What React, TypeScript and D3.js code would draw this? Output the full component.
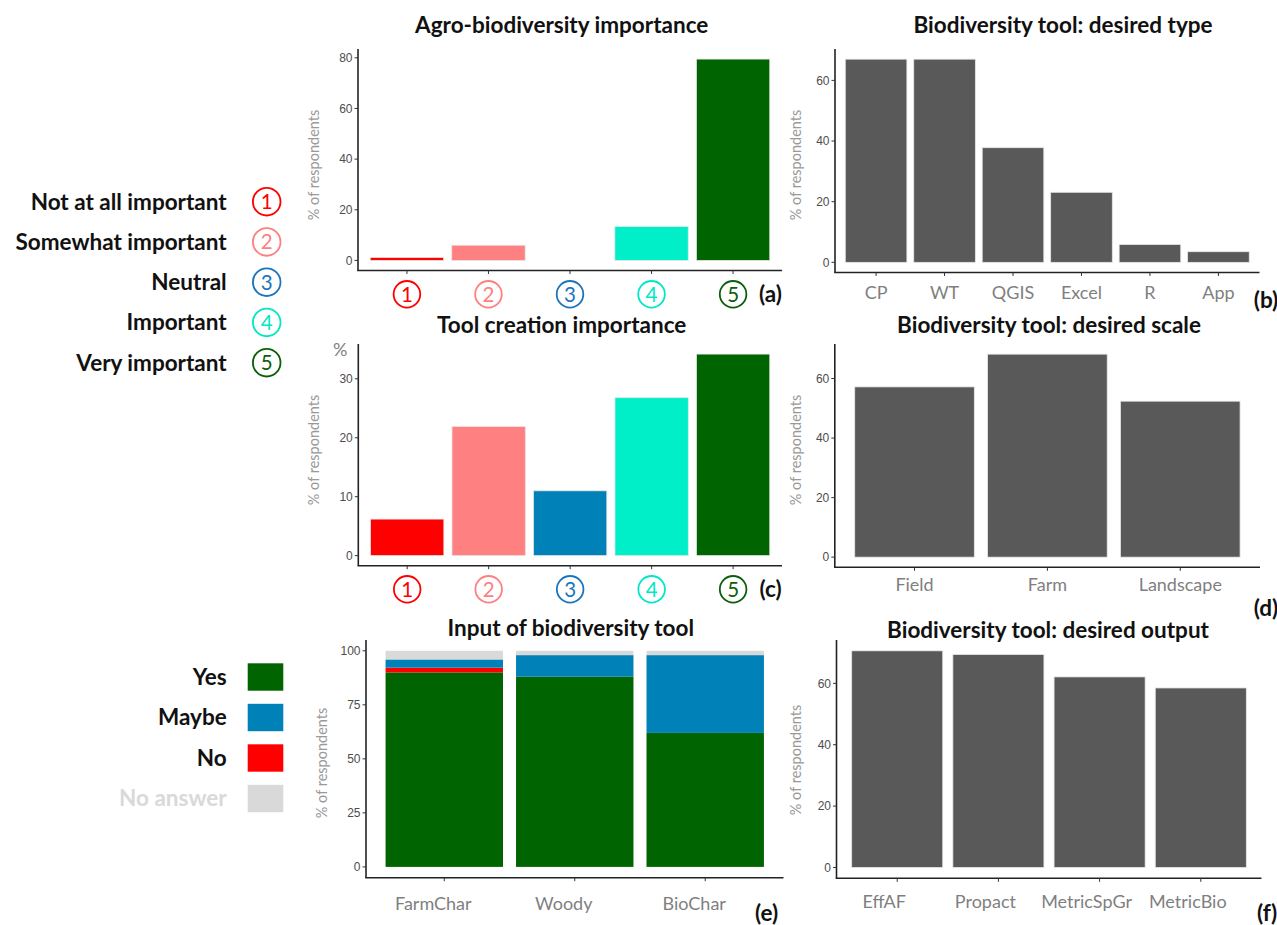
import React from 'react';
import * as d3 from 'd3';

// ---------- data ----------
const likertLevels = ['1', '2', '3', '4', '5'];
const likertLabels = ['Not at all important', 'Somewhat important', 'Neutral', 'Important', 'Very important'];
const likertBarColors = ['#FF0000', '#FF8080', '#0082B8', '#00EEC8', '#006400'];
const likertCircleColors = ['#FF0000', '#FF7F7F', '#1B75BC', '#00E8C6', '#0B5E0B'];

const agroImportance = [1.2, 6.0, 0, 13.4, 79.5];
const toolCreationImportance = [6.2, 21.9, 11.0, 26.8, 34.2];

const typeCategories = ['CP', 'WT', 'QGIS', 'Excel', 'R', 'App'];
const typeValues = [67.0, 67.0, 37.8, 23.1, 5.9, 3.5];

const scaleCategories = ['Field', 'Farm', 'Landscape'];
const scaleValues = [57.2, 68.2, 52.4];

const outputCategories = ['EffAF', 'Propact', 'MetricSpGr', 'MetricBio'];
const outputValues = [70.6, 69.4, 62.1, 58.5];

const inputCategories = ['FarmChar', 'Woody', 'BioChar'];
const inputStackOrder = ['Yes', 'No', 'Maybe', 'No answer'];
const inputYes = [90.0, 88.0, 62.0];
const inputNo = [2.2, 0, 0];
const inputMaybe = [3.8, 10.0, 36.0];
const inputNoAnswer = [4.0, 2.0, 2.0];
const responseColors: Record<string, string> = { Yes: '#006400', No: '#FF0000', Maybe: '#0082B8', 'No answer': '#D9D9D9' };
const legendResponses = ['Yes', 'Maybe', 'No', 'No answer'];

const ticksA = [0, 20, 40, 60, 80];
const ticksB = [0, 20, 40, 60];
const ticksC = [0, 10, 20, 30];
const ticksD = [0, 20, 40, 60];
const ticksE = [0, 25, 50, 75, 100];
const ticksF = [0, 20, 40, 60];

// ---------- styles ----------
const FONT = "Lato, 'Open Sans', sans-serif";
const TICKFONT = "'Liberation Sans', Arial, sans-serif";
const BAR_GRAY = '#595959';
const TITLE_SIZE = 22.5;
const LEGEND_SIZE = 22.5;
const TAG_SIZE = 22.5;

type PanelProps = {
  left: number; right: number; top: number; bottom: number;
  categories: string[];
  values?: number[];
  stacked?: { key: string; values: number[] }[];
  colors?: string[];
  ticks: number[];
  title: string; titleX: number; titleY: number;
  yLabelX: number; yLabelY: number;
  circleLabels?: boolean; labelY: number; labelShift?: number;
  tag: string; tagX: number; tagY: number;
  percentMark?: boolean;
};

function Panel(p: PanelProps) {
  const max = p.stacked
    ? d3.max(p.categories.map((_, i) => d3.sum(p.stacked!.map(s => s.values[i])))) as number
    : (d3.max(p.values!) as number);
  const x = d3.scaleBand<string>().domain(p.categories).range([p.left, p.right]).paddingInner(0.1).paddingOuter(0.15);
  const y = d3.scaleLinear().domain([-0.05 * max, 1.05 * max]).range([p.bottom, p.top]);
  const bw = x.bandwidth();

  let bars: React.ReactNode[] = [];
  if (p.stacked) {
    const rows = p.categories.map((c, i) => {
      const o: any = { cat: c };
      p.stacked!.forEach(s => { o[s.key] = s.values[i]; });
      return o;
    });
    const series = d3.stack().keys(p.stacked.map(s => s.key))(rows);
    series.forEach(s => {
      s.forEach((d, i) => {
        const h = y(d[0]) - y(d[1]);
        if (h <= 0) return;
        bars.push(
          <rect key={s.key + i} x={x(p.categories[i])} y={y(d[1])} width={bw} height={h}
            fill={responseColors[s.key]} />
        );
      });
    });
  } else {
    bars = p.values!.map((v, i) => {
      const h = y(0) - y(v);
      if (h <= 0) return null;
      return (
        <rect key={i} x={x(p.categories[i])} y={y(v)} width={bw} height={h}
          fill={p.colors ? p.colors[i] : BAR_GRAY} stroke="#e6e6e6" strokeWidth={0.8} />
      );
    });
  }

  return (
    <g>
      <text x={p.titleX} y={p.titleY} textAnchor="middle" fontFamily={FONT} fontWeight={700} fontSize={TITLE_SIZE} fill="#111">{p.title}</text>
      {bars}
      <line x1={p.left} x2={p.left} y1={p.top} y2={p.bottom} stroke="#222" strokeWidth={1.6} />
      <line x1={p.left - 0.8} x2={p.right} y1={p.bottom} y2={p.bottom} stroke="#222" strokeWidth={1.6} />
      {p.ticks.map(t => (
        <g key={t}>
          <line x1={p.left - 3.5} x2={p.left} y1={y(t)} y2={y(t)} stroke="#333" strokeWidth={1} />
          <text x={p.left - 5.5} y={y(t)} dy="0.35em" textAnchor="end" fontFamily={TICKFONT} fontSize={12} fill="#4D4D4D">{t}</text>
        </g>
      ))}
      {p.categories.map(c => {
        const cx = (x(c) as number) + bw / 2;
        return <line key={c} x1={cx} x2={cx} y1={p.bottom} y2={p.bottom + 3.5} stroke="#333" strokeWidth={1} />;
      })}
      <text transform={`translate(${p.yLabelX},${p.yLabelY}) rotate(-90)`} textAnchor="middle" dy="0.35em"
        fontFamily={FONT} fontSize={14.5} fill="#999">% of respondents</text>
      {p.percentMark && (
        <text x={p.left - 18} y={p.top + 6} textAnchor="middle" dy="0.35em" fontFamily={FONT} fontSize={18} fill="#808080">%</text>
      )}
      {p.categories.map((c, i) => {
        const cx = (x(c) as number) + bw / 2 + (p.labelShift || 0);
        if (p.circleLabels) {
          return (
            <g key={c}>
              <circle cx={cx} cy={p.labelY} r={13.3} fill="none" stroke={likertCircleColors[i]} strokeWidth={1.8} />
              <text x={cx} y={p.labelY} dy="0.36em" textAnchor="middle" fontFamily={FONT} fontSize={20.5} fill={likertCircleColors[i]}>{c}</text>
            </g>
          );
        }
        return (
          <text key={c} x={cx} y={p.labelY} textAnchor="middle" fontFamily={FONT} fontSize={18} fill="#7F7F7F">{c}</text>
        );
      })}
      <text x={p.tagX} y={p.tagY} dy="0.35em" textAnchor="middle" fontFamily={FONT} fontWeight={700} fontSize={TAG_SIZE} fill="#111">{p.tag}</text>
    </g>
  );
}

export default function App() {
  const likertY = d3.scalePoint<string>().domain(likertLabels).range([201.7, 362.7]);
  const respY = d3.scalePoint<string>().domain(legendResponses).range([677, 798.5]);
  const stacked = [
    { key: 'Yes', values: inputYes },
    { key: 'No', values: inputNo },
    { key: 'Maybe', values: inputMaybe },
    { key: 'No answer', values: inputNoAnswer },
  ].filter(s => inputStackOrder.includes(s.key));

  return (
    <svg width={1277} height={925} style={{ position: 'absolute', left: 0, top: 0, background: '#fff' }}>
      <rect width={1277} height={925} fill="#fff" />
      {likertLabels.map((l, i) => (
        <g key={l}>
          <text x={226.7} y={likertY(l)} dy="0.35em" textAnchor="end" fontFamily={FONT} fontWeight={700} fontSize={LEGEND_SIZE} fill="#111">{l}</text>
          <circle cx={266.7} cy={likertY(l)} r={13.8} fill="none" stroke={likertCircleColors[i]} strokeWidth={1.8} />
          <text x={266.7} y={likertY(l)} dy="0.36em" textAnchor="middle" fontFamily={FONT} fontSize={20.5} fill={likertCircleColors[i]}>{likertLevels[i]}</text>
        </g>
      ))}
      {legendResponses.map(r => (
        <g key={r}>
          <text x={226.7} y={respY(r)} dy="0.35em" textAnchor="end" fontFamily={FONT} fontWeight={700} fontSize={LEGEND_SIZE}
            fill={r === 'No answer' ? '#D9D9D9' : '#111'}>{r}</text>
          <rect x={247.7} y={(respY(r) as number) - 13.7} width={35.6} height={27.4} fill={responseColors[r]} />
        </g>
      ))}

      <Panel left={358} right={782} top={49} bottom={270.5} categories={likertLevels} values={agroImportance}
        colors={likertBarColors} ticks={ticksA} title="Agro-biodiversity importance" titleX={561.7} titleY={33}
        yLabelX={314} yLabelY={165} circleLabels labelY={294.3} tag="(a)" tagX={770.5} tagY={294.3} />
      <Panel left={835} right={1259.5} top={49} bottom={272.5} categories={typeCategories} values={typeValues}
        ticks={ticksB} title="Biodiversity tool: desired type" titleX={1063} titleY={33}
        yLabelX={796} yLabelY={165} labelY={299} tag="(b)" tagX={1266} tagY={300} />
      <Panel left={358.3} right={782} top={344} bottom={565.7} categories={likertLevels} values={toolCreationImportance}
        colors={likertBarColors} ticks={ticksC} title="Tool creation importance" titleX={561.7} titleY={333}
        yLabelX={314} yLabelY={450} circleLabels labelY={589.3} tag="(c)" tagX={770.5} tagY={589.3} percentMark />
      <Panel left={834.8} right={1260} top={344} bottom={567.3} categories={scaleCategories} values={scaleValues}
        ticks={ticksD} title="Biodiversity tool: desired scale" titleX={1049} titleY={333}
        yLabelX={796} yLabelY={450} labelY={591} tag="(d)" tagX={1266} tagY={608} />
      <Panel left={366} right={783.5} top={640} bottom={877.7} categories={inputCategories} stacked={stacked}
        ticks={ticksE} title="Input of biodiversity tool" titleX={570.8} titleY={636}
        yLabelX={321.7} yLabelY={763} labelY={910} labelShift={-11} tag="(e)" tagX={766.7} tagY={913} />
      <Panel left={836.5} right={1261.5} top={640} bottom={878.3} categories={outputCategories} values={outputValues}
        ticks={ticksF} title="Biodiversity tool: desired output" titleX={1048} titleY={637.5}
        yLabelX={796} yLabelY={760} labelY={908.3} labelShift={-13} tag="(f)" tagX={1267} tagY={913} />
    </svg>
  );
}
